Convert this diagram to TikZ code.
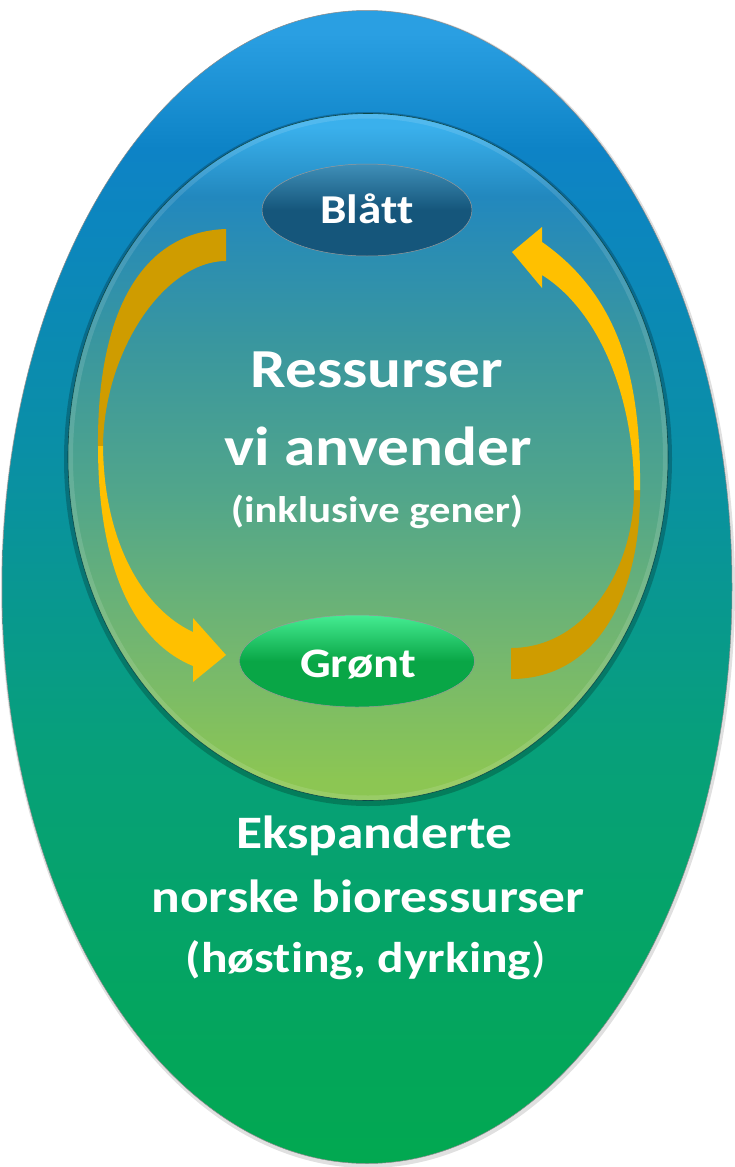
\documentclass[tikz,border=0pt]{standalone}
\usepackage{graphicx}
\usepackage{fontspec}
\setmainfont{Carlito}[Ligatures=NoCommon]
\usetikzlibrary{shapes.geometric}
\newcommand{\wx}[1]{\scalebox{1.15}[1]{#1}}
\definecolor{og0}{HTML}{2A9FE2}
\definecolor{og1}{HTML}{0D83C6}
\definecolor{og2}{HTML}{0A8FA6}
\definecolor{og3}{HTML}{07A07A}
\definecolor{og4}{HTML}{02A850}
\definecolor{ig0}{HTML}{3AB0EC}
\definecolor{ig1}{HTML}{2288BE}
\definecolor{ig2}{HTML}{3A979E}
\definecolor{ig3}{HTML}{52A68A}
\definecolor{ig4}{HTML}{74B76F}
\definecolor{ig5}{HTML}{8CC653}
\definecolor{bl0}{HTML}{3F8FB8}
\definecolor{bl1}{HTML}{15567B}
\definecolor{gr0}{HTML}{45EC92}
\definecolor{gr1}{HTML}{09A646}
\definecolor{abright}{HTML}{FFC000}
\definecolor{adark}{HTML}{CF9C00}
\pgfdeclareverticalshading{outershade}{100bp}{color(0bp)=(og4); color(25bp)=(og4); color(43bp)=(og3); color(56bp)=(og2); color(69bp)=(og1); color(74bp)=(og0); color(100bp)=(og0)}
\pgfdeclareverticalshading{innershade}{100bp}{color(0bp)=(ig5); color(26.5bp)=(ig5); color(36bp)=(ig4); color(47bp)=(ig3); color(58bp)=(ig2); color(69bp)=(ig1); color(74bp)=(ig0); color(100bp)=(ig0)}
\pgfdeclareverticalshading{blshade}{100bp}{color(0bp)=(bl1); color(25bp)=(bl1); color(50bp)=(bl1); color(75bp)=(bl0); color(100bp)=(bl0)}
\pgfdeclareverticalshading{grshade}{100bp}{color(0bp)=(gr1); color(25bp)=(gr1); color(50bp)=(gr1); color(75bp)=(gr0); color(100bp)=(gr0)}
\begin{document}
\begin{tikzpicture}[x=1pt,y=-1pt,
  big/.style={text=white, font=\fontsize{55}{58}\selectfont\bfseries, anchor=base, inner sep=0pt},
  mid/.style={text=white, font=\fontsize{46.5}{50}\selectfont\bfseries, anchor=base, inner sep=0pt},
  small/.style={text=white, font=\fontsize{37}{40}\selectfont\bfseries, anchor=base, inner sep=0pt},
  pill/.style={ellipse, inner sep=0pt, draw=black!40, line width=0.5pt, text=white}]
\useasboundingbox (0,0) rectangle (735,1167);
% outer ellipse
\fill[black, opacity=0.12] (368,589) ellipse [x radius=367pt, y radius=579pt];
\node[ellipse, inner sep=0pt, minimum width=730pt, minimum height=1153pt, shade, shading=outershade, draw=black!45, line width=0.5pt] (outer) at (367,587) {};
% inner circle
\fill[black, opacity=0.22] (368,459) ellipse [x radius=304pt, y radius=347pt];
\node[ellipse, inner sep=0pt, minimum width=600pt, minimum height=687pt, shade, shading=innershade, draw=black!50!teal, line width=0.6pt] (inner) at (368,457) {};
\begin{scope}
\clip (368,457) ellipse [x radius=300pt, y radius=343.5pt];
\draw[white, opacity=0.12, line width=10pt] (368,457) ellipse [x radius=300pt, y radius=343.5pt];
\end{scope}
% left arrow
\fill[adark] (226,229) .. controls (140,232) and (97,315) .. (98,446) -- (103,446) .. controls (104,350) and (165,261) .. (226,261) -- cycle;
\fill[abright] (98,446) .. controls (98,560) and (130,640) .. (193,666) -- (193,682) -- (226,655) -- (193,618) -- (193,632) .. controls (145,610) and (104,545) .. (103,446) -- cycle;
% right arrow
\fill[adark] (511,679) .. controls (600,679) and (641,590) .. (640,490) -- (634,490) .. controls (634,570) and (585,648) .. (511,648) -- cycle;
\fill[abright] (640,490) .. controls (641,390) and (625,300) .. (542,242) -- (542,227) -- (512,252) -- (542,288) -- (542,275) .. controls (598,310) and (634,395) .. (634,490) -- cycle;
% pills
\node[pill, minimum width=210pt, minimum height=92pt, shade, shading=blshade] (blatt) at (367,210) {};
\node[text=white, font=\fontsize{41}{44}\selectfont\bfseries, anchor=base, inner sep=0pt] (blattl) at (367,223) {\wx{Blått}};
\node[pill, minimum width=235pt, minimum height=92pt, shade, shading=grshade] (gront) at (357,661) {};
\node[text=white, font=\fontsize{42}{45}\selectfont\bfseries, anchor=base, inner sep=0pt] (grontl) at (358,677) {\wx{Grønt}};
% texts
\node[big] (t1) at (377,387) {\wx{Ressurser}};
\node[big] (t2) at (378,465) {\wx{vi anvender}};
\node[small] (t3) at (377,522) {\wx{(inklusive gener)}};
\node[mid] (b1) at (374,848) {\wx{Ekspanderte}};
\node[mid] (b2) at (368,912) {\wx{norske bioressurser}};
\node[mid, font=\fontsize{43}{46}\selectfont\bfseries] (b3) at (366,972) {\wx{(høsting, dyrking{\mdseries)}}};
\end{tikzpicture}
\end{document}
